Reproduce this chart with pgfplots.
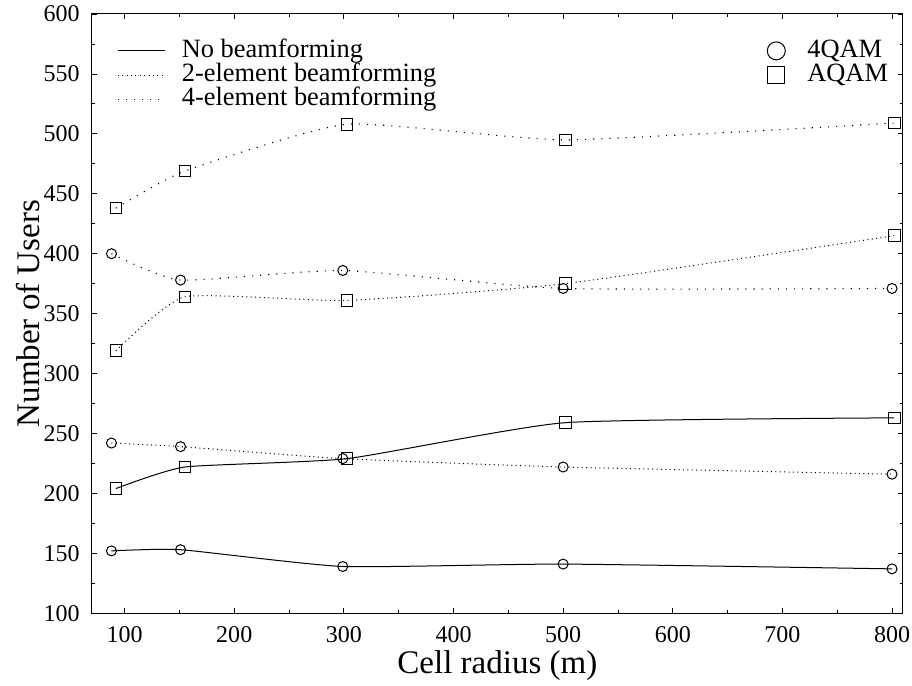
\documentclass[border=0pt]{standalone}
\usepackage{fontspec}
\setmainfont{Liberation Serif}
\usepackage{pgfplots}
\pgfplotsset{compat=1.18}

\pgfplotstableread{
x y
88 152
151 153
299 139
500 141
800 137
}\nobfqam
\pgfplotstableread{
x y
92 204
155 222
303 229
502 259
802 263
}\nobfaqam
\pgfplotstableread{
x y
88 242
151 239
299 229
500 222
800 216
}\twoqam
\pgfplotstableread{
x y
92 319
155 364
303 361
502 375
802 415
}\twoaqam
\pgfplotstableread{
x y
88 400
151 378
299 386
500 371
800 371
}\fourqam
\pgfplotstableread{
x y
92 438
155 469
303 508
502 495
802 509
}\fouraqam

\tikzset{
  dense/.style={line width=0.5pt, dash pattern=on 0.5pt off 1.7pt},
  sparse/.style={line width=0.55pt, dash pattern=on 0.55pt off 3.5pt},
}

\begin{document}
\begin{tikzpicture}
\begin{axis}[
  name=main,
  scale only axis, width=405.5pt, height=299.5pt,
  xmin=70, xmax=810, ymin=100, ymax=600,
  xtick={100,200,...,800}, ytick={100,150,...,600},
  minor x tick num=1, minor y tick num=1,
  tick align=inside, major tick length=2.5pt, minor tick length=1.5pt,
  tick style={black, line width=0.4pt},
  axis line style={line width=0.5pt},
  /pgf/number format/assume math mode=true,
  scaled ticks=false,
  tick label style={font=\fontsize{12}{14}\selectfont},
  xticklabel style={yshift=-3pt},
  yticklabel style={xshift=-2.5pt},
  label style={font=\fontsize{16.5}{19}\selectfont},
  xlabel={Cell radius (m)},
  ylabel={Number of Users},
  xlabel style={at={(axis description cs:0.5,-0.088)}, anchor=center},
  ylabel style={at={(axis description cs:-0.079,0.5)}, anchor=center},
  legend style={draw=none, fill=none, inner sep=0pt, at={(0.031,0.957)}, anchor=north west,
    font=\fontsize{13.2}{15}\selectfont, row sep=1.4pt,
    nodes={inner sep=0pt, text height=8.5pt, text depth=2.2pt}},
  legend cell align=left,
  legend image code/.code={\draw[#1] (0pt,0pt) -- (23.5pt,0pt); \path[draw=none] (0pt,0pt) -- (32pt,0pt);},
  every axis plot/.append style={black, smooth, tension=0.3},
]
\addlegendimage{black, line width=0.5pt}
\addlegendentry{No beamforming}
\addlegendimage{black, dense}
\addlegendentry{2-element beamforming}
\addlegendimage{black, sparse}
\addlegendentry{4-element beamforming}

\addplot[line width=0.5pt, mark=o, mark size=2.5pt, mark options={solid, line width=0.5pt}, forget plot] table {\nobfqam};
\addplot[line width=0.5pt, mark=square, mark size=2.9pt, mark options={solid, line width=0.5pt}, forget plot] table {\nobfaqam};
\addplot[dense, mark=o, mark size=2.5pt, mark options={solid, line width=0.5pt}, forget plot] table {\twoqam};
\addplot[dense, mark=square, mark size=2.9pt, mark options={solid, line width=0.5pt}, forget plot] table {\twoaqam};
\addplot[sparse, mark=o, mark size=2.5pt, mark options={solid, line width=0.5pt}, forget plot] table {\fourqam};
\addplot[sparse, mark=square, mark size=2.9pt, mark options={solid, line width=0.5pt}, forget plot] table {\fouraqam};
\end{axis}

\begin{axis}[
  scale only axis, width=405.5pt, height=299.5pt,
  xmin=70, xmax=810, ymin=100, ymax=600,
  hide axis,
  legend style={draw=none, fill=none, inner sep=0pt, at={(0.982,0.957)}, anchor=north east,
    font=\fontsize{13.2}{15}\selectfont, row sep=1.4pt,
    nodes={inner sep=0pt, text height=8.5pt, text depth=2.2pt}},
  legend cell align=left,
  legend image code/.code={\draw[#1] plot coordinates {(0pt,0pt)}; \path[draw=none] (0pt,0pt) -- (15.5pt,0pt);},
]
\addlegendimage{black, mark=o, mark size=4.5pt, line width=0.5pt}
\addlegendentry{4QAM}
\addlegendimage{black, mark=square, mark size=4.3pt, line width=0.5pt}
\addlegendentry{AQAM}
\end{axis}

\pgfresetboundingbox
\path[use as bounding box] ([shift={(-45.85pt,-36pt)}]main.south west) rectangle ([shift={(4.5pt,7pt)}]main.north east);
\end{tikzpicture}
\end{document}
